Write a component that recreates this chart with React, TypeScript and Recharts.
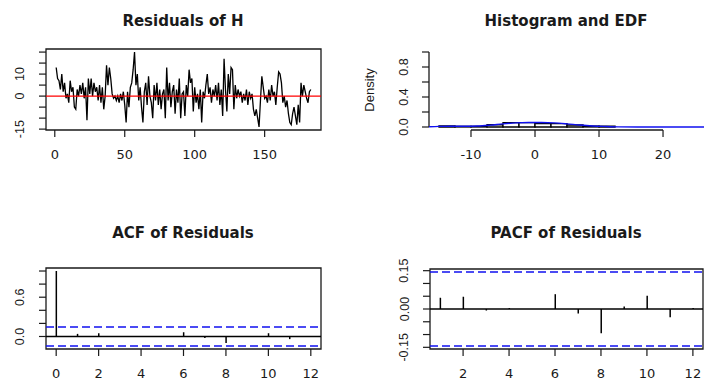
import React from 'react';
import {
    ComposedChart, LineChart, Line, Bar, XAxis, YAxis, ReferenceLine, ReferenceArea,
} from 'recharts';

/* ── Residual series (t = 1..183) ─────────────────── */
const residuals = [
    13, 8, 7, 3, 10, 2, 6, -1, 1, -3,
    7, 2, 4, -5, -6, 3, 0, 5, 1, 6,
    -1, 4, -11, 8, 1, 8, 0, 6, 2, 4,
    -2, 5, -3, 4, -6, 0, 14, 5, 13, 8,
    1, -1, 0, -2, 0, -3, 1, -2, 2, -4,
    -12, 2, -5, 4, 6, 12, 20, 5, 10, -2,
    4, -5, -12, 2, 6, -4, 9, 0, -3, -10,
    5, -2, 6, -4, 3, -6, 1, 3, -10, 13,
    -2, 6, -5, 2, 5, -8, 3, -3, 8, -10,
    1, 2, -9, 5, 0, 12, 6, 8, -7, 4,
    -3, 1, -6, 3, -12, 2, -1, 5, 10, 1,
    4, -3, 3, 0, 5, -2, 6, -4, 3, -9,
    17, 3, -7, 10, 1, 13, 12, -6, 5, -1,
    3, 0, 2, -3, 1, -2, 3, -4, 2, -1,
    1, -6, -9, -6, -10, -14, -2, 9, 4, -1,
    0, -3, 3, -2, 5, 0, 2, -4, 4, 11,
    10, 6, -3, 0, -5, -2, -8, -12, -13, -8,
    -5, -9, -13, -4, -12, 6, 0, 5, 2, -1,
    -3, 2, 3,
];
const tsXTicks = [0, 50, 100, 150];
const tsYTicks = [-15, -10, -5, 0, 5, 10, 15, 20];
const tsYLabels = [-15, 0, 10];

/* ── Histogram + density line ─────────────────────── */
const histBreaks = [-15, -12.5, -10, -7.5, -5, -2.5, 0, 2.5, 5, 7.5, 10, 12.5];
const histDensity = [0.015, 0.009, 0.009, 0.03, 0.058, 0.058, 0.045, 0.045, 0.027, 0.013, 0.011];
const edfX = [-16.56, -15, -13, -11, -9, -7, -5, -3, -1, 1, 3, 5, 7, 9, 11, 13, 16, 26.4];
const edfY = [0.003, 0.008, 0.01, 0.01, 0.013, 0.025, 0.042, 0.055, 0.06, 0.06, 0.055, 0.042, 0.026, 0.014, 0.007, 0.002, 0, 0];
const histXTicks = [-10, 0, 10, 20];
const histYTicks = [0, 0.2, 0.4, 0.6, 0.8, 1];
const histYLabels = [0, 0.4, 0.8];

/* ── ACF / PACF ───────────────────────────────────── */
const acfLags = [0, 1, 2, 3, 4, 5, 6, 7, 8, 9, 10, 11, 12];
const acfValues = [1, 0.04, 0.048, -0.005, 0.005, 0, 0.065, -0.022, -0.1, 0.005, 0.05, -0.04, 0.003];
const acfXTicks = [0, 2, 4, 6, 8, 10, 12];
const acfYTicks = [0, 0.2, 0.4, 0.6, 0.8, 1];
const acfYLabels = [0, 0.6];

const pacfLags = [1, 2, 3, 4, 5, 6, 7, 8, 9, 10, 11, 12];
const pacfValues = [0.044, 0.048, -0.006, 0.004, 0, 0.058, -0.018, -0.095, 0.01, 0.052, -0.032, 0.004];
const pacfXTicks = [2, 4, 6, 8, 10, 12];
const pacfYTicks = [-0.15, -0.1, -0.05, 0, 0.05, 0.1, 0.15];
const pacfYLabels = [-0.15, 0, 0.15];

const ciBound = 0.145;

/* ── Styling helpers ──────────────────────────────── */
const INK = '#1a1a1a';
const BLUE = '#1010f0';
const TICK_FONT = 'DejaVu Sans, sans-serif';
const YTICK_FONT = 'Liberation Sans, Arial, sans-serif';

const makeYTick = (labels: number[], digits: number) => (props: any) => {
    const { x, y, payload } = props;
    if (!labels.some((l) => Math.abs(l - payload.value) < 1e-9)) return <g />;
    const cx = x - 18.5;
    return (
        <text x={cx} y={y} transform={`rotate(-90, ${cx}, ${y})`} textAnchor="middle"
            dominantBaseline="central" fontFamily={YTICK_FONT} fontSize={12.5} fill={INK}>
            {payload.value.toFixed(digits)}
        </text>
    );
};

const XTick = (props: any) => {
    const { x, y, payload } = props;
    return (
        <text x={x} y={y + 17} textAnchor="middle" dominantBaseline="central"
            fontFamily={TICK_FONT} fontSize={13} fill={INK}>
            {payload.value}
        </text>
    );
};

const Title: React.FC<{ text: string; cx: number; cy: number }> = ({ text, cx, cy }) => (
    <div style={{
        position: 'absolute', left: cx - 150, top: cy - 9, width: 300, lineHeight: '18px',
        textAlign: 'center', fontFamily: TICK_FONT, fontWeight: 'bold', fontSize: 15, color: INK,
    }}>{text}</div>
);

const axisCommon = {
    tickSize: 7, tickMargin: 0, axisLine: false, interval: 0 as const,
    tickLine: { stroke: INK, strokeWidth: 1.2 }, allowDataOverflow: true,
};

/* ── Panels ───────────────────────────────────────── */
const tsData = residuals.map((r, i) => ({ t: i + 1, r }));
const tsX: [number, number] = [-6.28, 190.28];
const tsY: [number, number] = [-15.4, 21.4];

const ResidualPanel = () => (
    <LineChart width={352} height={190} data={tsData} margin={{ top: 49, right: 31, bottom: 0, left: 0 }}>
        <XAxis type="number" dataKey="t" domain={tsX} ticks={tsXTicks} height={60} tick={XTick} {...axisCommon} />
        <YAxis type="number" domain={tsY} ticks={tsYTicks} width={46} tick={makeYTick(tsYLabels, 0)} {...axisCommon} />
        <ReferenceArea x1={tsX[0]} x2={tsX[1]} y1={tsY[0]} y2={tsY[1]} fill="none" stroke={INK} strokeWidth={1.3} fillOpacity={0} />
        <Line type="linear" dataKey="r" stroke="#000" strokeWidth={1.3} dot={false} isAnimationActive={false} />
        <ReferenceLine y={0} stroke="#ff0000" strokeWidth={1.3} />
    </LineChart>
);

const histData = edfX.map((x, i) => ({ x, d: edfY[i] }));
const histX: [number, number] = [-16.56, 26.4];
const histY: [number, number] = [-0.04, 1.04];

const HistPanel = () => (
    <ComposedChart width={352} height={190} data={histData} margin={{ top: 49, right: 0, bottom: 0, left: 0 }}>
        <XAxis type="number" dataKey="x" domain={histX} ticks={histXTicks} height={60} tick={XTick} {...axisCommon} />
        <YAxis type="number" domain={histY} ticks={histYTicks} width={77} tick={makeYTick(histYLabels, 1)} {...axisCommon} />
        <ReferenceLine segment={[{ x: histXTicks[0], y: histY[0] }, { x: histXTicks[histXTicks.length - 1], y: histY[0] }]}
            stroke={INK} strokeWidth={1.3} ifOverflow="visible" />
        <ReferenceLine segment={[{ x: histX[0], y: histYTicks[0] }, { x: histX[0], y: histYTicks[histYTicks.length - 1] }]}
            stroke={INK} strokeWidth={1.3} ifOverflow="visible" />
        {histDensity.map((d, i) => (
            <ReferenceArea key={i} x1={histBreaks[i]} x2={histBreaks[i + 1]} y1={0} y2={d}
                fill="#fff" fillOpacity={1} stroke="#000" strokeWidth={1.3} />
        ))}
        <Line type="monotone" dataKey="d" stroke={BLUE} strokeWidth={1.4} dot={false} isAnimationActive={false} />
    </ComposedChart>
);

const acfData = acfLags.map((lag, i) => ({ lag, v: acfValues[i] }));
const acfX: [number, number] = [-0.48, 12.48];
const acfY: [number, number] = [-0.191, 1.046];

const AcfPanel = () => (
    <ComposedChart width={352} height={190} data={acfData} margin={{ top: 78, right: 31, bottom: 0, left: 0 }}>
        <XAxis type="number" dataKey="lag" domain={acfX} ticks={acfXTicks} height={31} tick={XTick} {...axisCommon} />
        <YAxis type="number" domain={acfY} ticks={acfYTicks} width={46} tick={makeYTick(acfYLabels, 1)} {...axisCommon} />
        <ReferenceArea x1={acfX[0]} x2={acfX[1]} y1={acfY[0]} y2={acfY[1]} fill="none" stroke={INK} strokeWidth={1.3} fillOpacity={0} />
        <Bar dataKey="v" fill="#000" barSize={1.5} isAnimationActive={false} />
        <ReferenceLine y={0} stroke="#000" strokeWidth={1.3} />
        <ReferenceLine y={ciBound} stroke={BLUE} strokeDasharray="8 4" strokeWidth={1.4} />
        <ReferenceLine y={-ciBound} stroke={BLUE} strokeDasharray="8 4" strokeWidth={1.4} />
    </ComposedChart>
);

const pacfData = pacfLags.map((lag, i) => ({ lag, v: pacfValues[i] }));
const pacfX: [number, number] = [0.56, 12.44];
const pacfY: [number, number] = [-0.1566, 0.1566];

const PacfPanel = () => (
    <ComposedChart width={352} height={190} data={pacfData} margin={{ top: 79, right: 1, bottom: 0, left: 0 }}>
        <XAxis type="number" dataKey="lag" domain={pacfX} ticks={pacfXTicks} height={31} tick={XTick} {...axisCommon} />
        <YAxis type="number" domain={pacfY} ticks={pacfYTicks} width={78} tick={makeYTick(pacfYLabels, 2)} {...axisCommon} />
        <ReferenceArea x1={pacfX[0]} x2={pacfX[1]} y1={pacfY[0]} y2={pacfY[1]} fill="none" stroke={INK} strokeWidth={1.3} fillOpacity={0} />
        <Bar dataKey="v" fill="#000" barSize={1.5} isAnimationActive={false} />
        <ReferenceLine y={0} stroke="#000" strokeWidth={1.3} />
        <ReferenceLine y={ciBound} stroke={BLUE} strokeDasharray="8 4" strokeWidth={1.4} />
        <ReferenceLine y={-ciBound} stroke={BLUE} strokeDasharray="8 4" strokeWidth={1.4} />
    </ComposedChart>
);

/* ── Page ─────────────────────────────────────────── */
const App: React.FC = () => (
    <div style={{ position: 'absolute', left: 0, top: 0, width: 704, height: 379, background: '#fff', overflow: 'hidden' }}>
        <Title text="Residuals of H" cx={183} cy={21} />
        <Title text="Histogram and EDF" cx={566} cy={21} />
        <Title text="ACF of Residuals" cx={183} cy={233} />
        <Title text="PACF of Residuals" cx={566} cy={233} />
        <div style={{ position: 'absolute', left: 0, top: 0 }}><ResidualPanel /></div>
        <div style={{ position: 'absolute', left: 352, top: 0 }}><HistPanel /></div>
        <div style={{ position: 'absolute', left: 0, top: 190 }}><AcfPanel /></div>
        <div style={{ position: 'absolute', left: 352, top: 190 }}><PacfPanel /></div>
        <div style={{
            position: 'absolute', left: 370 - 40, top: 90 - 9, width: 80, lineHeight: '18px', textAlign: 'center',
            transform: 'rotate(-90deg)', fontFamily: YTICK_FONT, fontSize: 13, color: INK,
        }}>Density</div>
    </div>
);

export default App;
